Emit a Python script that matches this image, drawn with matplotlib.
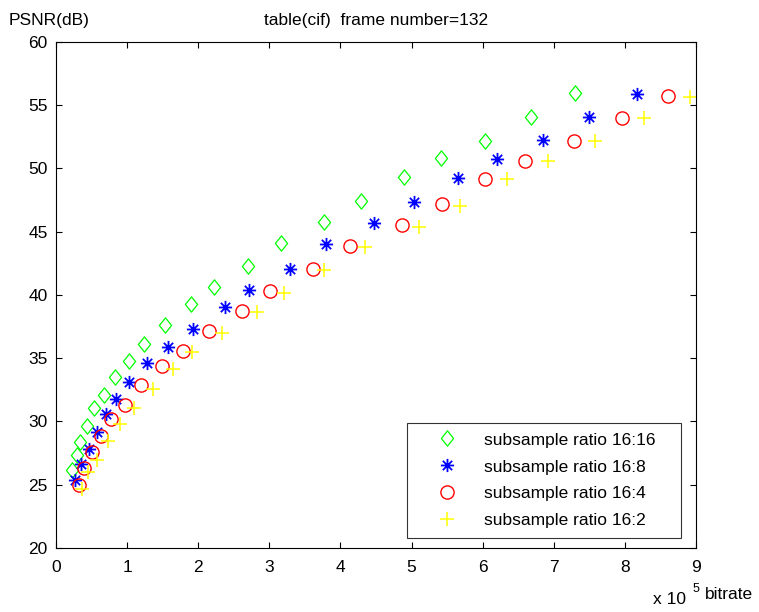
import matplotlib
matplotlib.use("Agg")
import matplotlib.pyplot as plt
from matplotlib.path import Path

plt.rcParams['font.family'] = ['Liberation Sans', 'DejaVu Sans']

# bitrate in units of 1e5
x_16_16 = [0.23, 0.29, 0.34, 0.43, 0.54, 0.68, 0.83, 1.03, 1.24, 1.53, 1.90, 2.22, 2.70, 3.17, 3.77, 4.29, 4.89, 5.41, 6.03, 6.68, 7.30]
y_16_16 = [26.17, 27.35, 28.4, 29.64, 31.04, 32.13, 33.5, 34.78, 36.1, 37.6, 39.26, 40.66, 42.3, 44.13, 45.8, 47.43, 49.3, 50.8, 52.2, 54.05, 55.95]

x_16_8 = [0.27, 0.35, 0.46, 0.58, 0.70, 0.85, 1.03, 1.28, 1.58, 1.92, 2.38, 2.71, 3.29, 3.80, 4.47, 5.03, 5.66, 6.20, 6.85, 7.50, 8.17]
y_16_8 = [25.35, 26.6, 27.8, 29.2, 30.57, 31.77, 33.15, 34.6, 35.87, 37.3, 39.03, 40.4, 42.06, 44.03, 45.67, 47.33, 49.27, 50.73, 52.23, 54.05, 55.87]

x_16_4 = [0.33, 0.39, 0.50, 0.63, 0.78, 0.97, 1.20, 1.49, 1.78, 2.15, 2.61, 3.01, 3.61, 4.14, 4.87, 5.43, 6.03, 6.59, 7.29, 7.96, 8.60]
y_16_4 = [25.0, 26.35, 27.6, 28.85, 30.17, 31.33, 32.85, 34.36, 35.6, 37.15, 38.77, 40.35, 42.06, 43.9, 45.56, 47.2, 49.17, 50.6, 52.2, 53.97, 55.73]

x_16_2 = [0.37, 0.45, 0.58, 0.73, 0.90, 1.09, 1.36, 1.64, 1.91, 2.33, 2.83, 3.21, 3.77, 4.35, 5.10, 5.68, 6.34, 6.92, 7.58, 8.27, 8.91]
y_16_2 = [24.65, 25.97, 26.98, 28.47, 29.79, 31.03, 32.6, 34.17, 35.52, 37.02, 38.66, 40.18, 41.95, 43.8, 45.4, 47.06, 49.17, 50.6, 52.2, 53.97, 55.63]

labels = ["subsample ratio 16:16", "subsample ratio 16:8", "subsample ratio 16:4", "subsample ratio 16:2"]
xticks = list(range(0, 10))
yticks = list(range(20, 61, 5))

fig = plt.figure(figsize=(7.59, 6.12), dpi=100)
ax = fig.add_axes([0.0738, 0.1046, 0.8432, 0.8268])

diamond = Path([(0, 1), (0.8, 0), (0, -1), (-0.8, 0), (0, 1)],
               [Path.MOVETO, Path.LINETO, Path.LINETO, Path.LINETO, Path.CLOSEPOLY])
r = 0.707
asterisk = Path([(-1, 0), (1, 0), (0, -1), (0, 1), (-r, -r), (r, r), (-r, r), (r, -r)],
                [Path.MOVETO, Path.LINETO] * 4)

ax.plot(x_16_16, y_16_16, linestyle='none', marker=diamond, markersize=11,
        markerfacecolor='none', markeredgecolor=(0, 1, 0), markeredgewidth=0.9, label=labels[0])
ax.plot(x_16_8, y_16_8, linestyle='none', marker=asterisk, markersize=9.5,
        markerfacecolor='none', markeredgecolor=(0, 0, 1), markeredgewidth=1.3, label=labels[1])
ax.plot(x_16_4, y_16_4, linestyle='none', marker='o', markersize=9.5,
        markerfacecolor='none', markeredgecolor=(1, 0, 0), markeredgewidth=1.0, label=labels[2])
ax.plot(x_16_2, y_16_2, linestyle='none', marker='+', markersize=10,
        markeredgecolor=(1, 1, 0), markeredgewidth=1.1, label=labels[3])

ax.set_xlim(0, 9)
ax.set_ylim(20, 60)
ax.set_xticks(xticks)
ax.set_yticks(yticks)
ax.tick_params(direction='in', length=4, width=0.8, top=True, right=True,
               labelsize=12.5, colors='black')
ax.tick_params(axis='x', pad=9)
ax.tick_params(axis='y', pad=6)
for s in ax.spines.values():
    s.set_linewidth(0.8)
    s.set_color('black')

ax.set_title("table(cif)  frame number=132", fontsize=12.5, pad=12)
fig.text(0.011, 0.978, "PSNR(dB)", fontsize=12.5, ha='left', va='top')
fig.text(0.860, 0.008, r"x 10", fontsize=12.5, ha='left', va='bottom')
fig.text(0.913, 0.027, "5", fontsize=9, ha='left', va='bottom')
fig.text(0.929, 0.016, "bitrate", fontsize=12.5, ha='left', va='bottom')

leg = ax.legend(loc='lower left', bbox_to_anchor=(0.548, 0.0198, 0.429, 0.233),
                mode='expand', fontsize=12.5, frameon=True, fancybox=False,
                edgecolor='black', borderpad=0.55, handlelength=3.5,
                handletextpad=0.4, labelspacing=0.68, borderaxespad=0)
leg.get_frame().set_linewidth(0.8)

fig.savefig("out.png", dpi=100)
